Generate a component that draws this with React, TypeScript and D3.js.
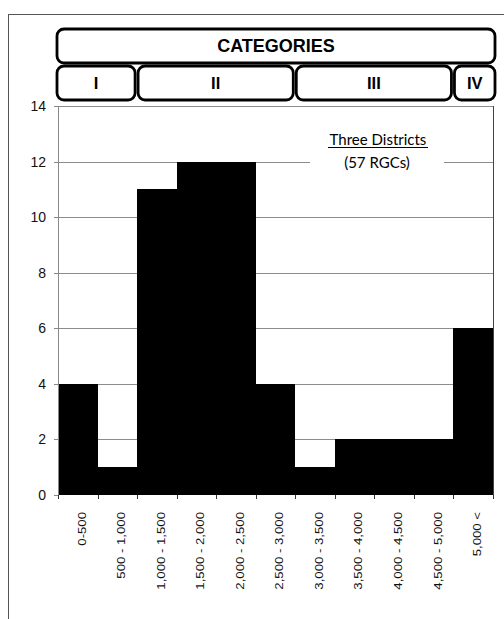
import React from "react";
import * as d3 from "d3";

const binLabels = [
  "0-500",
  "500 - 1,000",
  "1,000 - 1,500",
  "1,500 - 2,000",
  "2,000 - 2,500",
  "2,500 - 3,000",
  "3,000 - 3,500",
  "3,500 - 4,000",
  "4,000 - 4,500",
  "4,500 - 5,000",
  "5,000 <",
];
const counts = [4, 1, 11, 12, 12, 4, 1, 2, 2, 2, 6];
const yTicks = [0, 2, 4, 6, 8, 10, 12, 14];
const categoryNames = ["I", "II", "III", "IV"];
const categoryStart = [0, 2, 6, 10];
const categoryEnd = [2, 6, 10, 11];
const titleLine1 = "Three Districts";
const titleLine2 = "(57 RGCs)";
const headerText = "CATEGORIES";

const W = 504;
const H = 619;
const PL = 58;
const PR = 493;
const PT = 106;
const PB = 495;
const SANS = "'Liberation Sans', Arial, sans-serif";

export default function App() {
  const x = d3.scaleBand<string>().domain(binLabels).range([PL, PR]).padding(0);
  const y = d3.scaleLinear().domain([0, 14]).range([PB, PT]);
  const bw = x.bandwidth();
  const edges = d3.range(binLabels.length + 1).map((i) => PL + i * bw);
  const bars = d3.area<number>()
    .curve(d3.curveStepAfter)
    .x((_, i) => edges[i])
    .y0(PB)
    .y1((d) => y(d));
  const barData = [...counts, counts[counts.length - 1]];

  return (
    <svg
      width={W}
      height={H}
      style={{ position: "absolute", left: 0, top: 0 }}
      fontFamily={SANS}
    >
      <rect x={0} y={0} width={W} height={H} fill="#fff" />
      {/* outer frame */}
      <line x1={8} y1={14.5} x2={W} y2={14.5} stroke="#555" strokeWidth={1} />
      <line x1={8.5} y1={14} x2={8.5} y2={H} stroke="#555" strokeWidth={1} />

      {/* gridlines */}
      {yTicks.slice(1, -1).map((t) => (
        <line key={t} x1={PL} x2={PR} y1={Math.round(y(t)) + 0.5} y2={Math.round(y(t)) + 0.5} stroke="#8c8c8c" strokeWidth={1} />
      ))}
      {/* plot border top/right */}
      <line x1={PL} x2={PR} y1={PT + 0.5} y2={PT + 0.5} stroke="#8c8c8c" />
      <line x1={PR + 0.5} x2={PR + 0.5} y1={PT} y2={PB} stroke="#444" />

      {/* bars (histogram, contiguous) */}
      <path d={bars(barData) || ""} fill="#000" shapeRendering="crispEdges" />

      {/* y axis */}
      <line x1={PL + 0.5} x2={PL + 0.5} y1={PT} y2={PB + 4} stroke="#888" />
      {yTicks.map((t) => (
        <g key={t}>
          <line x1={PL - 4} x2={PL} y1={Math.round(y(t)) + 0.5} y2={Math.round(y(t)) + 0.5} stroke="#888" />
          <text x={46} y={y(t)} dy="0.36em" textAnchor="end" fontSize={14} fill="#111" fontFamily={SANS}>
            {t}
          </text>
        </g>
      ))}

      {/* x ticks */}
      {edges.map((e, i) => (
        <line key={i} x1={Math.round(e) + 0.5} x2={Math.round(e) + 0.5} y1={PB} y2={PB + 4} stroke="#333" />
      ))}
      {binLabels.map((l) => {
        const cx = (x(l) as number) + bw / 2 + 4;
        return (
          <text
            key={l}
            transform={`translate(${cx},${512}) rotate(-90) scale(1.2,1)`}
            textAnchor="end"
            dy="0.35em"
            fontSize={11}
            fill="#111"
            fontFamily={SANS}
          >
            {l}
          </text>
        );
      })}

      {/* annotation */}
      <rect x={310} y={126} width={134} height={50} fill="#fff" />
      <text x={378} y={145} textAnchor="middle" fontFamily="Lato, 'Open Sans', sans-serif" fontSize={15} fill="#000">
        {titleLine1}
      </text>
      <line x1={328} x2={428} y1={147.5} y2={147.5} stroke="#000" strokeWidth={1.2} />
      <text x={377} y={168} textAnchor="middle" fontFamily="Lato, 'Open Sans', sans-serif" fontSize={15} fill="#000">
        {titleLine2}
      </text>

      {/* category header */}
      <rect x={57} y={29} width={438} height={34} rx={7} fill="#fff" stroke="#000" strokeWidth={2.8} />
      <text x={(57 + 495) / 2} y={46} dy="0.35em" textAnchor="middle" fontWeight="bold" fontSize={18} fill="#000" fontFamily={SANS}>
        {headerText}
      </text>
      {categoryNames.map((n, i) => {
        const x0 = i === 0 ? 57 : edges[categoryStart[i]] + 1;
        const x1 = i === categoryNames.length - 1 ? 495 : edges[categoryEnd[i]] - 2;
        return (
          <g key={n}>
            <rect x={x0} y={66} width={x1 - x0} height={34} rx={7} fill="#fff" stroke="#000" strokeWidth={2.8} />
            <text x={(x0 + x1) / 2} y={83} dy="0.35em" textAnchor="middle" fontWeight="bold" fontSize={16.5} fill="#000" fontFamily={SANS}>
              {n}
            </text>
          </g>
        );
      })}
    </svg>
  );
}
